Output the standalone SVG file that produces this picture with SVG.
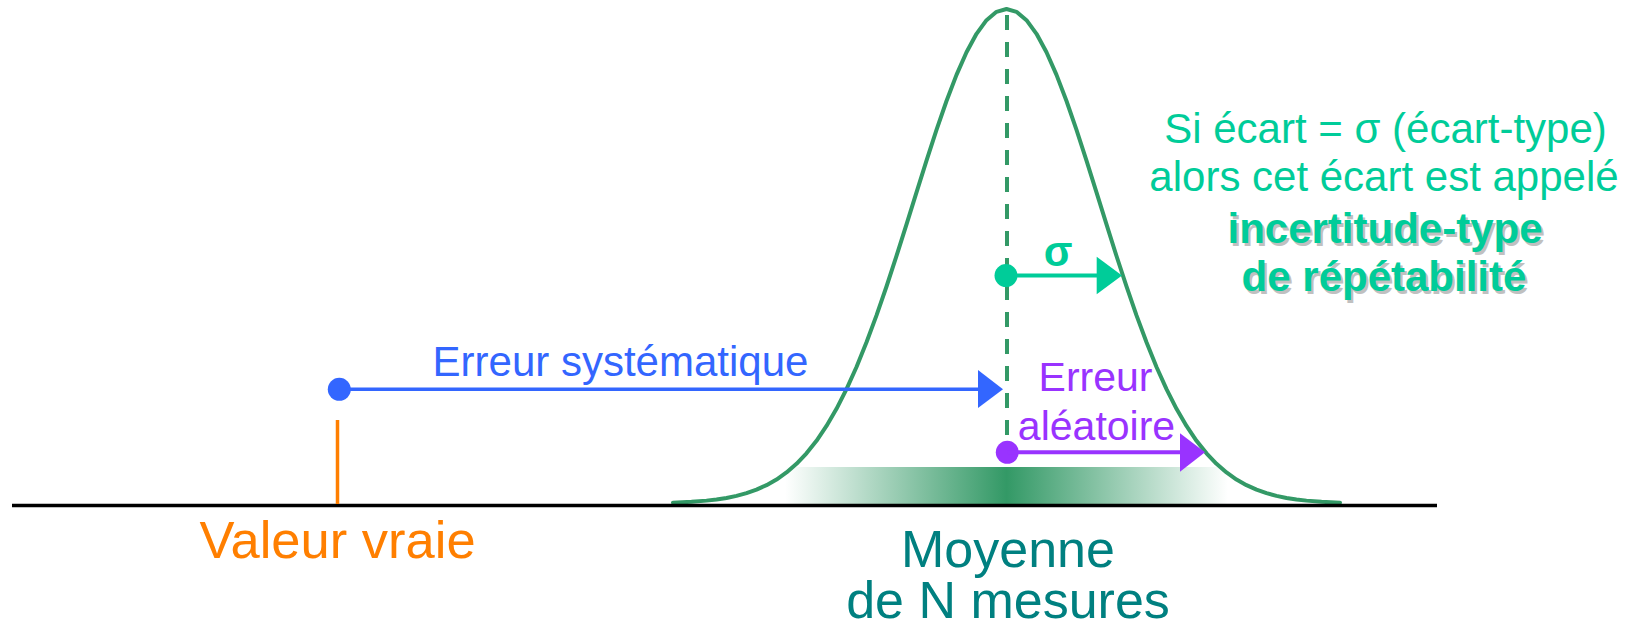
<svg xmlns="http://www.w3.org/2000/svg" width="1638" height="634" viewBox="0 0 1638 634">
<defs>
<style>
text{font-family:"Liberation Sans",Arial,sans-serif;}
.mint{fill:#00CC99;}
.blue{fill:#3366FF;}
.purple{fill:#9933FF;}
.orange{fill:#FF7F00;}
.teal{fill:#008080;}
.shadow{fill:#C0C0C0;}
.bold{font-weight:bold;}
</style>
<linearGradient id="bar" x1="785" y1="0" x2="1228" y2="0" gradientUnits="userSpaceOnUse">
<stop offset="0" stop-color="#FFFFFF"/>
<stop offset="0.5" stop-color="#339966"/>
<stop offset="1" stop-color="#FFFFFF"/>
</linearGradient>
</defs>
<rect width="1638" height="634" fill="#FFFFFF"/>

<g id="distribution">
<rect x="785" y="467" width="443" height="38" fill="url(#bar)"/>
<path d="M673,502.65 L691.5,501.8 L706.5,500.63 L716.5,499.47 L726.5,497.92 L736.5,495.86 L746.5,493.15 L756.5,489.64 L766.5,485.16 L776.5,479.51 L786.5,472.46 L796.5,463.81 L806.5,453.32 L816.5,440.77 L826.5,425.98 L836.5,408.81 L846.5,389.13 L856.5,366.95 L866.5,342.31 L876.5,315.4 L886.5,286.48 L896.5,255.98 L906.5,224.39 L916.5,192.35 L926.5,160.58 L936.5,129.87 L946.5,101.03 L956.5,74.88 L966.5,52.24 L976.5,33.81 L986.5,20.19 L996.5,11.82 L1006.5,9 L1016.5,11.82 L1026.5,20.19 L1036.5,33.81 L1046.5,52.24 L1056.5,74.88 L1066.5,101.03 L1076.5,129.87 L1086.5,160.58 L1096.5,192.35 L1106.5,224.39 L1116.5,255.98 L1126.5,286.48 L1136.5,315.4 L1146.5,342.31 L1156.5,366.95 L1166.5,389.13 L1176.5,408.81 L1186.5,425.98 L1196.5,440.77 L1206.5,453.32 L1216.5,463.81 L1226.5,472.46 L1236.5,479.51 L1246.5,485.16 L1256.5,489.64 L1266.5,493.15 L1276.5,495.86 L1286.5,497.92 L1296.5,499.47 L1306.5,500.63 L1321.5,501.8 L1340,502.65" fill="none" stroke="#339966" stroke-width="4" stroke-linejoin="round" stroke-linecap="round"/>
<line x1="1007" y1="15" x2="1007" y2="436" stroke="#339966" stroke-width="4" stroke-dasharray="15 12"/>
</g>

<g id="axis">
<line x1="12" y1="505.5" x2="1437" y2="505.5" stroke="#000000" stroke-width="3.5"/>
</g>

<g id="valeur-vraie">
<line x1="337.5" y1="420" x2="337.5" y2="504" stroke="#FF7F00" stroke-width="3.5"/>
<text class="orange" x="337.5" y="558" font-size="52.5" text-anchor="middle">Valeur vraie</text>
</g>

<g id="moyenne">
<text class="teal" x="1008" y="566.5" font-size="52" text-anchor="middle">Moyenne</text>
<text class="teal" x="1008" y="618.3" font-size="52" text-anchor="middle">de N mesures</text>
</g>

<g id="connectors">
<g id="erreur-systematique-arrow">
<circle cx="339.3" cy="389.3" r="11.5" fill="#3366FF"/>
<line x1="339.3" y1="389.3" x2="980" y2="389.3" stroke="#3366FF" stroke-width="3.5"/>
<polygon points="978,370 1003,389.3 978,408" fill="#3366FF"/>
</g>
<g id="sigma-arrow">
<circle cx="1006" cy="275.6" r="11.5" fill="#00CC99"/>
<line x1="1006" y1="275.6" x2="1098" y2="275.6" stroke="#00CC99" stroke-width="4"/>
<polygon points="1096.7,256.7 1122,275.6 1096.7,294.3" fill="#00CC99"/>
</g>
<g id="erreur-aleatoire-arrow">
<circle cx="1007.3" cy="452.3" r="11.5" fill="#9933FF"/>
<line x1="1007.3" y1="452.3" x2="1182" y2="452.3" stroke="#9933FF" stroke-width="4"/>
<polygon points="1180,433.3 1205,452.3 1180,471.7" fill="#9933FF"/>
</g>
</g>

<g id="label-erreur-systematique">
<text class="blue" x="620.5" y="376" font-size="42" text-anchor="middle">Erreur systématique</text>
</g>

<g id="label-sigma">
<text class="mint bold" x="1058" y="266" font-size="42" text-anchor="middle">σ</text>
</g>

<g id="label-erreur-aleatoire">
<text class="purple" x="1095.5" y="390.7" font-size="41" text-anchor="middle">Erreur</text>
<text class="purple" x="1096.5" y="440" font-size="41" text-anchor="middle">aléatoire</text>
</g>

<g id="note">
<text class="mint" x="1385.5" y="143" font-size="42" text-anchor="middle">Si écart = σ (écart-type)</text>
<text class="mint" x="1384" y="191" font-size="42" text-anchor="middle">alors cet écart est appelé</text>
<text class="shadow bold" x="1387.5" y="245.5" font-size="42" text-anchor="middle">incertitude-type</text>
<text class="mint bold" x="1385" y="243" font-size="42" text-anchor="middle">incertitude-type</text>
<text class="shadow bold" x="1386.5" y="293.5" font-size="42" text-anchor="middle">de répétabilité</text>
<text class="mint bold" x="1384" y="291" font-size="42" text-anchor="middle">de répétabilité</text>
</g>
</svg>
